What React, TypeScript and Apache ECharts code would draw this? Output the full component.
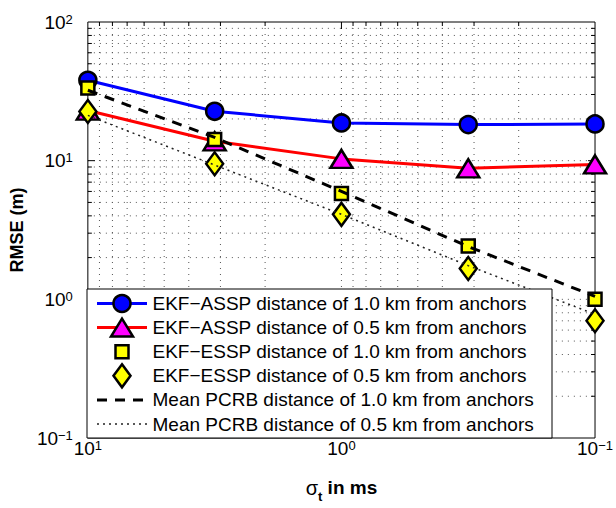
import React, { useEffect, useRef } from 'react';
import * as echarts from 'echarts';

// sigma_t (ms) sample points
const sigmaT = [10, 3.162, 1, 0.3162, 0.1];
// RMSE (m) per series
const ekfAssp10 = [38, 22.7, 18.7, 18.2, 18.4];
const ekfAssp05 = [23, 13.8, 10.3, 8.8, 9.4];
const ekfEssp10 = [33.4, 14.2, 5.8, 2.42, 1.0];
const ekfEssp05 = [22.6, 9.5, 4.1, 1.67, 0.7];
const pcrb10 = [32.2, 14.7, 6.0, 2.4, 1.05];
const pcrb05 = [21.2, 9.3, 4.1, 1.75, 0.78];

const seriesNames = [
  'EKF\u2212ASSP distance of 1.0 km from anchors',
  'EKF\u2212ASSP distance of 0.5 km from anchors',
  'EKF\u2212ESSP distance of 1.0 km from anchors',
  'EKF\u2212ESSP distance of 0.5 km from anchors',
  'Mean PCRB distance of 1.0 km from anchors',
  'Mean PCRB distance of 0.5 km from anchors',
];

// grid / tick values (log axes)
const xGridValues = [0.2, 0.3, 0.4, 0.5, 0.6, 0.7, 0.8, 0.9, 1, 2, 3, 4, 5, 6, 7, 8, 9];
const yGridValues = [
  0.2, 0.3, 0.4, 0.5, 0.6, 0.7, 0.8, 0.9, 1,
  2, 3, 4, 5, 6, 7, 8, 9, 10,
  20, 30, 40, 50, 60, 70, 80, 90,
];

const xTitle = ['\u03c3', 't', ' in ms'];
const yTitle = 'RMSE (m)';

const FONT = '"Liberation Sans", Arial, Helvetica, sans-serif';
const BLUE = '#0000ff';
const RED = '#ff0000';
const MAGENTA = '#ff00ff';
const YELLOW = '#ffff00';

const isDecade = (v: number) => Math.abs(Math.log10(v) - Math.round(Math.log10(v))) < 1e-9;

const pts = (ys: number[]) => sigmaT.map((x, i) => [x, ys[i]]);

const tickFormatter = (v: number) => {
  const e = Math.round(Math.log10(v));
  const s = e < 0 ? '\u2212' + -e : String(e);
  return `{b|10}{s|${s}}`;
};

const tickRich = {
  b: { fontSize: 19, fontFamily: FONT, color: '#000', lineHeight: 19, padding: [6, 0, 6, 0] },
  s: { fontSize: 13, fontFamily: FONT, color: '#000', lineHeight: 13, verticalAlign: 'top' },
};

function buildLegend() {
  const LX = 87, LY = 289, LW = 465, LH = 149;
  const sx1 = 97, sx2 = 147, sc = 122, tx = 152.5;
  const rowY = (i: number) => 303.5 + i * 24.1;
  const Z = 100;
  const children: any[] = [
    { type: 'rect', z: Z, shape: { x: LX, y: LY, width: LW, height: LH }, style: { fill: '#fff', stroke: '#000', lineWidth: 1 } },
  ];
  seriesNames.forEach((name, i) => {
    const y = rowY(i);
    if (i === 0) {
      children.push({ type: 'line', z: Z + 1, shape: { x1: sx1, y1: y, x2: sx2, y2: y }, style: { stroke: BLUE, lineWidth: 3 } });
      children.push({ type: 'circle', z: Z + 2, shape: { cx: sc, cy: y, r: 8.5 }, style: { fill: BLUE, stroke: '#000', lineWidth: 2.5 } });
    } else if (i === 1) {
      children.push({ type: 'line', z: Z + 1, shape: { x1: sx1, y1: y, x2: sx2, y2: y }, style: { stroke: RED, lineWidth: 3 } });
      children.push({ type: 'polygon', z: Z + 2, shape: { points: [[sc, y - 9], [sc + 11, y + 9], [sc - 11, y + 9]] }, style: { fill: MAGENTA, stroke: '#000', lineWidth: 2.5 } });
    } else if (i === 2) {
      children.push({ type: 'rect', z: Z + 2, shape: { x: sc - 6.5, y: y - 6.5, width: 13, height: 13 }, style: { fill: YELLOW, stroke: '#000', lineWidth: 2.5 } });
    } else if (i === 3) {
      children.push({ type: 'polygon', z: Z + 2, shape: { points: [[sc, y - 11.5], [sc + 8.5, y], [sc, y + 11.5], [sc - 8.5, y]] }, style: { fill: YELLOW, stroke: '#000', lineWidth: 2.5 } });
    } else if (i === 4) {
      children.push({ type: 'line', z: Z + 1, shape: { x1: sx1, y1: y, x2: sx2, y2: y }, style: { stroke: '#000', lineWidth: 3, lineDash: [10, 8] } });
    } else {
      children.push({ type: 'line', z: Z + 1, shape: { x1: sx1, y1: y, x2: sx2, y2: y }, style: { stroke: '#222', lineWidth: 1.5, lineDash: [2, 4] } });
    }
    children.push({
      type: 'text', z: Z + 2, x: tx, y,
      style: { text: name, fill: '#000', fontSize: 19, fontFamily: FONT, align: 'left', verticalAlign: 'middle', textAlign: 'left', textVerticalAlign: 'middle' },
    });
  });
  return children;
}

const gridDot = { stroke: '#555', lineWidth: 1, lineDash: [1, 5] };

export default function App() {
  const ref = useRef<HTMLDivElement>(null);
  useEffect(() => {
    document.body.style.margin = '0';
    if (!ref.current) return;
    const chart = echarts.init(ref.current, null, { renderer: 'svg' });
    const option: any = {
      animation: false,
      backgroundColor: '#fff',
      grid: { left: 78, top: 22, width: 522, height: 424, show: true, borderColor: '#000', borderWidth: 1, backgroundColor: '#fff' },
      xAxis: {
        type: 'log', logBase: 10, min: 0.1, max: 10, inverse: true,
        axisLine: { show: false }, axisTick: { show: false }, splitLine: { show: false }, minorTick: { show: false },
        axisLabel: { formatter: tickFormatter, rich: tickRich, margin: 1, fontSize: 19, fontFamily: FONT, color: '#000' },
        name: `{sig|${xTitle[0]}}{sub|${xTitle[1]}}{b|${xTitle[2]}}`,
        nameLocation: 'middle', nameGap: 40,
        nameTextStyle: {
          fontSize: 19, fontFamily: FONT, color: '#000',
          rich: {
            sig: { fontSize: 20, fontFamily: FONT, color: '#000', lineHeight: 20, verticalAlign: 'top' },
            sub: { fontSize: 13, fontFamily: FONT, fontWeight: 'bold', color: '#000', lineHeight: 13, padding: [12, 0, 0, 0], verticalAlign: 'top' },
            b: { fontSize: 19, fontFamily: FONT, fontWeight: 'bold', color: '#000', lineHeight: 20, verticalAlign: 'top' },
          },
        },
      },
      yAxis: {
        type: 'log', logBase: 10, min: 0.1, max: 100,
        axisLine: { show: false }, axisTick: { show: false }, splitLine: { show: false }, minorTick: { show: false },
        axisLabel: { formatter: tickFormatter, rich: tickRich, margin: 15, fontSize: 19, fontFamily: FONT, color: '#000' },
        name: yTitle, nameLocation: 'middle', nameGap: 51,
        nameTextStyle: { fontSize: 18, fontWeight: 'bold', fontFamily: FONT, color: '#000' },
      },
      graphic: buildLegend(),
      series: [
        {
          type: 'custom', silent: true, z: 1, clip: false,
          data: xGridValues.map((v) => [v, 1]),
          renderItem: (params: any, api: any) => {
            const v = api.value(0);
            const cs = params.coordSys;
            const px = api.coord([v, 1])[0];
            const top = cs.y, bot = cs.y + cs.height;
            const len = isDecade(v) ? 7 : 4;
            return {
              type: 'group',
              children: [
                { type: 'line', shape: { x1: px, y1: top, x2: px, y2: bot }, style: gridDot },
                { type: 'line', shape: { x1: px, y1: bot, x2: px, y2: bot - len }, style: { stroke: '#000', lineWidth: 1 } },
                { type: 'line', shape: { x1: px, y1: top, x2: px, y2: top + len }, style: { stroke: '#000', lineWidth: 1 } },
              ],
            };
          },
        },
        {
          type: 'custom', silent: true, z: 1, clip: false,
          data: yGridValues.map((v) => [1, v]),
          renderItem: (params: any, api: any) => {
            const v = api.value(1);
            const cs = params.coordSys;
            const py = api.coord([1, v])[1];
            const left = cs.x, right = cs.x + cs.width;
            const len = isDecade(v) ? 7 : 4;
            return {
              type: 'group',
              children: [
                { type: 'line', shape: { x1: left, y1: py, x2: right, y2: py }, style: gridDot },
                { type: 'line', shape: { x1: left, y1: py, x2: left + len, y2: py }, style: { stroke: '#000', lineWidth: 1 } },
                { type: 'line', shape: { x1: right, y1: py, x2: right - len, y2: py }, style: { stroke: '#000', lineWidth: 1 } },
              ],
            };
          },
        },
        {
          name: seriesNames[0], type: 'line', z: 2, clip: false, silent: true,
          data: pts(ekfAssp10), symbol: 'circle', symbolSize: 17,
          lineStyle: { color: BLUE, width: 3 },
          itemStyle: { color: BLUE, borderColor: '#000', borderWidth: 2.5 },
        },
        {
          name: seriesNames[1], type: 'line', z: 3, clip: false, silent: true,
          data: pts(ekfAssp05), symbol: 'triangle', symbolSize: [22, 18],
          lineStyle: { color: RED, width: 3 },
          itemStyle: { color: MAGENTA, borderColor: '#000', borderWidth: 2.5 },
        },
        {
          name: seriesNames[2], type: 'scatter', z: 4, clip: false, silent: true,
          data: pts(ekfEssp10), symbol: 'rect', symbolSize: 13,
          itemStyle: { color: YELLOW, borderColor: '#000', borderWidth: 2.5, opacity: 1 },
        },
        {
          name: seriesNames[3], type: 'scatter', z: 5, clip: false, silent: true,
          data: pts(ekfEssp05), symbol: 'diamond', symbolSize: [17, 23],
          itemStyle: { color: YELLOW, borderColor: '#000', borderWidth: 2.5, opacity: 1 },
        },
        {
          name: seriesNames[4], type: 'line', z: 6, clip: false, silent: true,
          data: pts(pcrb10), symbol: 'none',
          lineStyle: { color: '#000', width: 3, type: [10, 8] },
        },
        {
          name: seriesNames[5], type: 'line', z: 7, clip: false, silent: true,
          data: pts(pcrb05), symbol: 'none',
          lineStyle: { color: '#222', width: 1.5, type: [2, 4] },
        },
      ],
    };
    chart.setOption(option);
    return () => chart.dispose();
  }, []);
  return <div ref={ref} style={{ width: 616, height: 508 }} />;
}
